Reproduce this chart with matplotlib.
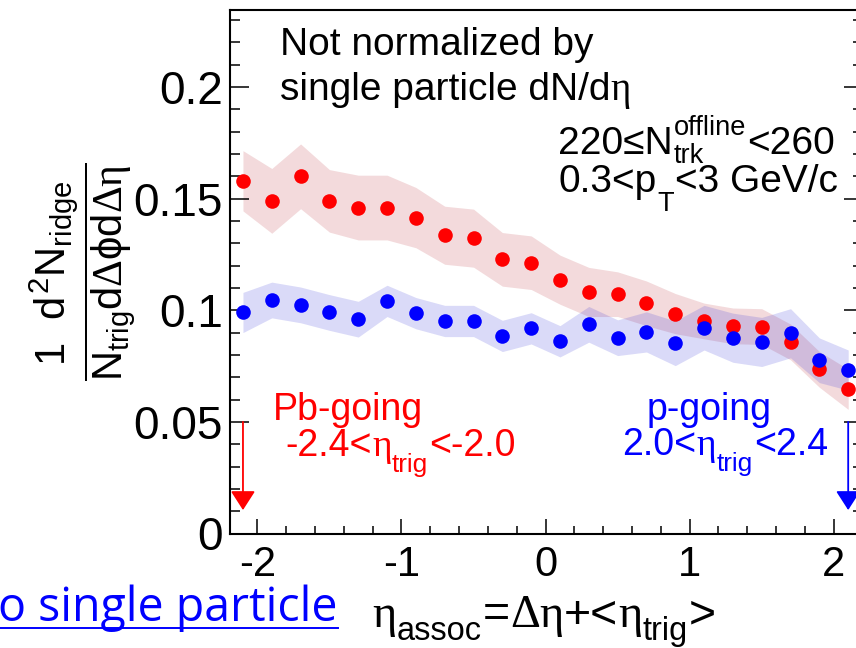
import matplotlib
matplotlib.use("Agg")
import matplotlib.pyplot as plt
from matplotlib.ticker import MultipleLocator
import numpy as np

plt.rcParams['font.family'] = ['Liberation Sans', 'DejaVu Sans']
plt.rcParams['mathtext.fontset'] = 'custom'
plt.rcParams['mathtext.rm'] = 'Liberation Serif'
plt.rcParams['mathtext.it'] = 'Liberation Sans'
plt.rcParams['mathtext.sf'] = 'Liberation Sans'
plt.rcParams['mathtext.bf'] = 'Liberation Sans:bold'

# eta_assoc bin centres
eta_assoc = [-2.1, -1.9, -1.7, -1.5, -1.3, -1.1, -0.9, -0.7, -0.5, -0.3, -0.1,
             0.1, 0.3, 0.5, 0.7, 0.9, 1.1, 1.3, 1.5, 1.7, 1.9, 2.1]

# Pb-going trigger (-2.4 < eta_trig < -2.0)
pb_vals = [0.158, 0.149, 0.160, 0.149, 0.146, 0.146, 0.1415, 0.1336, 0.1323,
           0.1228, 0.1213, 0.1137, 0.1082, 0.1072, 0.1031, 0.0985, 0.0952,
           0.0930, 0.0927, 0.0858, 0.0735, 0.0646]
pb_syst = [0.0135, 0.0145, 0.0145, 0.014, 0.0145, 0.0145, 0.0135, 0.013, 0.013,
           0.012, 0.012, 0.011, 0.011, 0.010, 0.010, 0.009, 0.008, 0.008,
           0.008, 0.008, 0.008, 0.009]

# p-going trigger (2.0 < eta_trig < 2.4)
p_vals = [0.0990, 0.1046, 0.1024, 0.0990, 0.0960, 0.1042, 0.0987, 0.0952,
          0.0952, 0.0885, 0.0919, 0.0861, 0.0937, 0.0877, 0.0903, 0.0852,
          0.0922, 0.0877, 0.0858, 0.0897, 0.0776, 0.0732]
p_syst = [0.009, 0.008, 0.008, 0.008, 0.008, 0.007, 0.007, 0.007, 0.007,
          0.007, 0.007, 0.007, 0.008, 0.008, 0.009, 0.010, 0.010, 0.011,
          0.011, 0.011, 0.010, 0.009]

x_ticks = [-2, -1, 0, 1, 2]
x_ticklabels = ['-2', '-1', '0', '1', '2']
y_ticks = [0, 0.05, 0.1, 0.15, 0.2]
y_ticklabels = ['0', '0.05', '0.1', '0.15', '0.2']

W, H = 856, 648
fig = plt.figure(figsize=(W / 100, H / 100), dpi=100)
renderer = fig.canvas.get_renderer()

ETA = r'$\mathrm{\eta}$'


def px(x, y):
    return x / W, 1 - y / H


def rich_text(x0, y0, parts, size, color='black', sub_drop=0.36,
              sup_rise=0.48, small=0.7):
    """Draw a line of text with ROOT-like sub/superscripts.

    parts: plain strings, or (subscript, superscript) tuples.
    x0, y0: left end of the baseline, in pixels from the top-left corner.
    """
    em = size * 100 / 72
    cx = x0
    for part in parts:
        if isinstance(part, str):
            t = fig.text(*px(cx, y0), part, fontsize=size, color=color,
                         ha='left', va='baseline')
            cx += t.get_window_extent(renderer).width
        else:
            sub, sup = part
            w = 0
            if sub:
                t = fig.text(*px(cx + 1, y0 + sub_drop * em), sub,
                             fontsize=size * small, color=color,
                             ha='left', va='baseline')
                w = max(w, t.get_window_extent(renderer).width)
            if sup:
                t = fig.text(*px(cx + 1, y0 - sup_rise * em), sup,
                             fontsize=size * small, color=color,
                             ha='left', va='baseline')
                w = max(w, t.get_window_extent(renderer).width)
            cx += w + 2


ax_left, ax_right, ax_top, ax_bottom = 230, 862.6, 10, 533.5
ax = fig.add_axes([ax_left / W, 1 - ax_bottom / H,
                   (ax_right - ax_left) / W, (ax_bottom - ax_top) / H])
ax.set_xlim(-2.19, 2.2)
ax.set_ylim(0, 0.2345)

x = np.array(eta_assoc)
pb = np.array(pb_vals)
pe = np.array(pb_syst)
pv = np.array(p_vals)
ve = np.array(p_syst)

ax.fill_between(x, pb - pe, pb + pe, color=(0.75, 0.2, 0.24), alpha=0.18,
                linewidth=0, zorder=1)
ax.fill_between(x, pv - ve, pv + ve, color=(0.2, 0.2, 0.85), alpha=0.18,
                linewidth=0, zorder=1)
ax.plot(x, pb, 'o', color='#ff0000', markersize=10.5, markeredgewidth=0, zorder=3)
ax.plot(x, pv, 'o', color='#0000ff', markersize=10.5, markeredgewidth=0, zorder=4)

# trigger-acceptance arrows
for xa, col in [(-2.1, '#ff0000'), (2.1, '#0000ff')]:
    ax.annotate('', xy=(xa, 0.0105), xytext=(xa, 0.05),
                arrowprops=dict(arrowstyle='-|>,head_length=0.42,head_width=0.27',
                                color=col, lw=1.3, shrinkA=0, shrinkB=0,
                                mutation_scale=28), zorder=5)

# axes styling
for s in ax.spines.values():
    s.set_linewidth(1.5)
ax.set_xticks(x_ticks)
ax.set_xticklabels(x_ticklabels)
ax.set_yticks(y_ticks)
ax.set_yticklabels(y_ticklabels)
ax.xaxis.set_minor_locator(MultipleLocator(0.2))
ax.yaxis.set_minor_locator(MultipleLocator(0.01))
ax.tick_params(axis='y', which='major', direction='in', length=14, width=1.1,
               labelsize=33, pad=5, right=True)
ax.tick_params(axis='y', which='minor', direction='in', length=7, width=1.1,
               right=True)
ax.tick_params(axis='x', which='major', direction='in', length=11, width=1.1,
               labelsize=30, pad=8, top=False)
ax.tick_params(axis='x', which='minor', direction='in', length=5.5, width=1.1,
               top=False)

# annotations inside the frame
rich_text(280, 55, ['Not normalized by'], 28)
rich_text(280, 100, ['single particle dN/d', ETA], 28)
rich_text(558, 154, ['220≤N', ('trk', 'offline'), '<260'], 28,
          sub_drop=0.24)
rich_text(558, 192, ['0.3<p', ('T', None), '<3 GeV/c'], 28, sub_drop=0.48)

rich_text(273, 420, ['Pb-going'], 27, color='#ff0000')
rich_text(285, 456, ['-2.4<', ETA, ('trig', None), '<-2.0'], 27,
          color='#ff0000', sub_drop=0.42)
rich_text(647, 420, ['p-going'], 27, color='#0000ff')
rich_text(622, 455, ['2.0<', ETA, ('trig', None), '<2.4'], 27,
          color='#0000ff', sub_drop=0.42)

# axis titles
fig.text(*px(83, 272),
         r'$\dfrac{\mathsf{1}\ \ d^{\mathsf{2}}N_{ridge}}{N_{trig}d\Delta\phi d\Delta\mathrm{\eta}}$',
         fontsize=30, rotation=90, ha='center', va='center')
rich_text(372, 627, [ETA, ('assoc', None), '=', r'$\Delta\mathrm{\eta}$', '+<',
                     ETA, ('trig', None), '>'], 33.5, sub_drop=0.28)

# link text at the bottom left
fig.text(*px(338, 621), 'o single particle', fontsize=33.5, color='#0000ff',
         family=['Open Sans', 'DejaVu Sans'], ha='right', va='baseline')
fig.add_artist(plt.Line2D([0, 338 / W], [1 - 627.5 / H] * 2, color='#0000ff',
                          lw=1.4, transform=fig.transFigure))

fig.savefig('out.png', dpi=100)
